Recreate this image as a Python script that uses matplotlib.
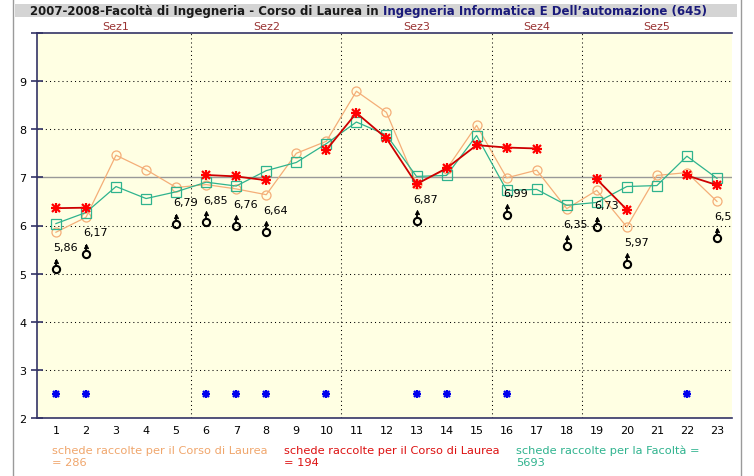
import numpy as np
import matplotlib

matplotlib.use("Agg")

import matplotlib.pyplot as plt
from matplotlib.patches import Rectangle
from matplotlib.lines import Line2D
from matplotlib.transforms import ScaledTranslation

# -----------------------------
# Dati
# -----------------------------
domande = list(range(1, 24))

# medie Corso di Laurea (schede = 286)
media_cdl = [5.86, 6.17, 7.46, 7.16, 6.79, 6.85, 6.76, 6.64, 7.50, 7.75, 8.79, 8.35,
             6.87, 7.17, 8.08, 6.99, 7.15, 6.35, 6.73, 5.97, 7.04, 7.10, 6.50]

# medie Corso di Laurea (schede = 194), None = non disponibile
media_cdl2 = [6.36, 6.37, None, None, None, 7.05, 7.02, 6.94, None, 7.57, 8.34, 7.81,
              6.86, 7.19, 7.67, 7.62, 7.60, None, 6.96, 6.33, None, 7.04, 6.84]

# medie Facoltà (schede = 5693)
media_fac = [6.04, 6.27, 6.81, 6.56, 6.70, 6.90, 6.82, 7.14, 7.31, 7.70, 8.15, 7.88,
             7.02, 7.04, 7.87, 6.73, 6.75, 6.42, 6.48, 6.81, 6.83, 7.44, 6.98]

# domande con etichetta del valore e simbolo
etichettate = [1, 2, 5, 6, 7, 8, 13, 16, 18, 19, 20, 23]

# asterischi blu in basso
asterischi_blu = [1, 2, 6, 7, 8, 10, 13, 14, 16, 22]

sezioni = ["Sez1", "Sez2", "Sez3", "Sez4", "Sez5"]
sez_inizio = [1, 6, 11, 16, 19]
sez_fine = [5, 10, 15, 18, 23]

legenda = [
    ("schede raccolte per il Corso di Laurea\n= 286", "#F0A66C"),
    ("schede raccolte per il Corso di Laurea\n= 194", "#DD1111"),
    ("schede raccolte per la Facoltà =\n5693", "#2FB38E"),
]

# -----------------------------
# Grafico
# -----------------------------
plt.rcParams["font.family"] = ["DejaVu Sans"]
W, H = 754, 477
fig = plt.figure(figsize=(W / 100, H / 100), dpi=100)
fig.patch.set_facecolor("white")

ax = fig.add_axes([37 / W, 1 - 419 / H, (732 - 37) / W, (419 - 34) / H])
ax.set_facecolor("#FFFFE3")
ax.set_xlim(0.37, 23.5)
ax.set_ylim(2, 10)

# griglia
for v in [3, 4, 5, 6, 8, 9]:
    ax.axhline(v, color="black", lw=0.75, ls=(0, (1, 3)), zorder=1)
ax.axhline(7, color="#999999", lw=1.0, zorder=1)
for a, b in zip(sez_fine[:-1], sez_inizio[1:]):
    ax.axvline((a + b) / 2, color="black", lw=0.75, ls=(0, (1, 3)), zorder=1)

x = np.array(domande)
y_cdl2 = np.array([np.nan if v is None else v for v in media_cdl2])


def asterisco(xs, ys, col, ms):
    # asterisco = "+" sovrapposto a "x"
    ax.plot(xs, ys, ls="none", marker="+", ms=ms, mec=col, mew=1.6, zorder=6)
    ax.plot(xs, ys, ls="none", marker="x", ms=ms * 0.8, mec=col, mew=1.6, zorder=6)


ax.plot(x, media_cdl, color="#F4AE78", lw=0.9, marker="o", ms=6.5,
        mfc="none", mec="#F4AE78", mew=0.9, zorder=3)
ax.plot(x, media_fac, color="#2FB38E", lw=0.9, marker="s", ms=6.5,
        mfc="none", mec="#2FB38E", mew=0.9, zorder=4)
ax.plot(x, y_cdl2, color="#CC0000", lw=1.3, zorder=5)
asterisco(x, y_cdl2, "#FF0000", 6.5)
asterisco(asterischi_blu, [2.5] * len(asterischi_blu), "#0000EE", 6)

# etichette e simboli sotto i punti
px = 1 / 100
lab_y = [media_cdl[d - 1] for d in etichettate]
for d, v in zip(etichettate, lab_y):
    ax.annotate(f"{v:.2f}".rstrip("0").replace(".", ","), xy=(d, v),
                xytext=(-3 * 0.72, -15 * 0.72), textcoords="offset points",
                ha="left", va="center", fontsize=8, color="black", zorder=7)

t_circ = ax.transData + ScaledTranslation(0, -37 * px, fig.dpi_scale_trans)
t_stem = ax.transData + ScaledTranslation(0, -31 * px, fig.dpi_scale_trans)
t_head = ax.transData + ScaledTranslation(0, -28.5 * px, fig.dpi_scale_trans)
ax.plot(etichettate, lab_y, ls="none", marker="o", ms=5.2, mfc="none", mec="black",
        mew=1.5, transform=t_circ, zorder=7)
ax.plot(etichettate, lab_y, ls="none", marker="|", ms=4, mec="black",
        mew=1.3, transform=t_stem, zorder=7)
ax.plot(etichettate, lab_y, ls="none", marker="^", ms=3.2, mfc="black", mec="black",
        mew=0.5, transform=t_head, zorder=7)

# assi
navy = "#333366"
for s in ["left", "bottom", "top"]:
    ax.spines[s].set_color(navy)
    ax.spines[s].set_linewidth(1.2)
ax.spines["right"].set_visible(False)

ax.set_xticks(domande)
ax.set_xticklabels([str(d) for d in domande], fontsize=8)
ax.tick_params(axis="x", length=0, pad=5)
ax.set_yticks(range(2, 11))
ax.set_yticklabels([str(v) for v in range(2, 10)] + [""], fontsize=8)
ax.tick_params(axis="y", direction="inout", length=9, width=1.2, color=navy, pad=3)

# intestazioni sezioni
for nome, a, b in zip(sezioni, sez_inizio, sez_fine):
    ax.text((a + b) / 2, 1.005, nome, transform=ax.get_xaxis_transform(),
            ha="center", va="bottom", fontsize=8, color="#993333")

# barra del titolo e bordo
fig.patches.append(Rectangle((15 / W, 1 - 18 / H), (737 - 15) / W, 13 / H,
                             transform=fig.transFigure, facecolor="#D4D4D4",
                             edgecolor="none", zorder=0))
fig.add_artist(Line2D([13 / W, 13 / W], [0, 1], color="#9A9A9A", lw=1.0))
fig.add_artist(Line2D([741 / W, 741 / W], [0, 1], color="#9A9A9A", lw=1.0))

t1 = fig.text(30 / W, 1 - 11.5 / H,
              "2007-2008-Facoltà di Ingegneria - Corso di Laurea in ",
              fontsize=8.5, fontweight="bold", color="#1A1A1A", va="center", ha="left")
fig.canvas.draw()
bb = t1.get_window_extent()
fig.text(bb.x1 / W, 1 - 11.5 / H, "Ingegneria Informatica E Dell’automazione (645)",
         fontsize=8.5, fontweight="bold", color="#1A1A7A", va="center", ha="left")

# legenda in basso
for (testo, col), xpos in zip(legenda, [52, 284, 516]):
    fig.text(xpos / W, 1 - 446 / H, testo, fontsize=8.2, color=col,
             ha="left", va="top", linespacing=1.2)

plt.savefig("out.png", dpi=100)
